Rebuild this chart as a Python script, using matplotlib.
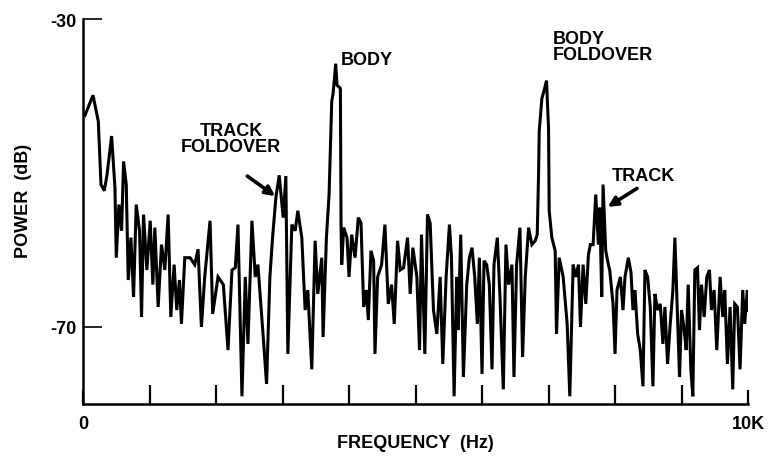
import matplotlib
matplotlib.use("Agg")
import matplotlib.pyplot as plt
import numpy as np

# power spectrum trace, frequency in kHz and power in dB
freq_khz = [
    0.00, 0.03, 0.15, 0.23, 0.27, 0.32, 0.36, 0.43, 0.48, 0.50,
    0.54, 0.58, 0.61, 0.65, 0.68, 0.72, 0.76, 0.80, 0.85, 0.88,
    0.91, 0.96, 1.01, 1.05, 1.08, 1.13, 1.18, 1.23, 1.28, 1.32,
    1.37, 1.41, 1.45, 1.48, 1.53, 1.61, 1.68, 1.73, 1.78, 1.83,
    1.91, 1.95, 2.03, 2.11, 2.18, 2.24, 2.29, 2.33, 2.39, 2.44,
    2.48, 2.54, 2.59, 2.63, 2.71, 2.76, 2.81, 2.85, 2.90, 2.95,
    3.01, 3.05, 3.08, 3.14, 3.19, 3.23, 3.29, 3.34, 3.38, 3.44,
    3.49, 3.53, 3.59, 3.61, 3.66, 3.70, 3.74, 3.76, 3.80, 3.82,
    3.87, 3.88, 3.89, 3.92, 3.97, 4.00, 4.04, 4.09, 4.14, 4.18,
    4.22, 4.26, 4.29, 4.33, 4.37, 4.39, 4.43, 4.49, 4.54, 4.59,
    4.64, 4.68, 4.73, 4.77, 4.82, 4.88, 4.92, 4.96, 5.02, 5.06,
    5.09, 5.14, 5.18, 5.22, 5.27, 5.32, 5.37, 5.41, 5.46, 5.51,
    5.54, 5.58, 5.62, 5.64, 5.68, 5.72, 5.77, 5.81, 5.85, 5.89,
    5.93, 5.96, 6.00, 6.03, 6.07, 6.11, 6.15, 6.18, 6.23, 6.27,
    6.32, 6.36, 6.40, 6.45, 6.48, 6.52, 6.57, 6.61, 6.65, 6.70,
    6.75, 6.80, 6.83, 6.85, 6.86, 6.90, 6.93, 6.97, 7.00, 7.01,
    7.05, 7.10, 7.12, 7.16, 7.22, 7.28, 7.32, 7.37, 7.41, 7.45,
    7.48, 7.52, 7.56, 7.60, 7.63, 7.67, 7.71, 7.75, 7.77, 7.80,
    7.82, 7.86, 7.90, 7.92, 7.97, 8.00, 8.03, 8.08, 8.12, 8.15,
    8.20, 8.24, 8.27, 8.30, 8.34, 8.38, 8.42, 8.45, 8.49, 8.53,
    8.57, 8.60, 8.64, 8.68, 8.72, 8.75, 8.79, 8.83, 8.87, 8.90,
    8.94, 8.97, 9.00, 9.04, 9.07, 9.10, 9.14, 9.17, 9.20, 9.24,
    9.27, 9.30, 9.34, 9.38, 9.42, 9.45, 9.49, 9.53, 9.58, 9.62,
    9.65, 9.69, 9.73, 9.77, 9.80, 9.84, 9.88, 9.92, 9.95, 9.99,
    10.00,
]
power_db = [
    -42.3, -42.5, -39.9, -43.3, -51.5, -52.3, -50.3, -45.2, -51.9, -61.0,
    -54.1, -57.5, -48.5, -51.5, -63.9, -58.4, -66.1, -54.1, -57.5, -68.7,
    -55.4, -62.6, -56.2, -64.5, -57.1, -67.4, -59.3, -62.6, -55.4, -68.7,
    -61.9, -67.8, -63.9, -69.6, -61.0, -61.0, -61.9, -59.9, -70.0, -63.5,
    -56.2, -68.3, -63.5, -64.5, -73.0, -62.6, -62.3, -56.7, -79.0, -63.5,
    -72.2, -56.2, -63.5, -61.9, -71.3, -77.4, -63.5, -58.4, -53.2, -50.3,
    -55.8, -50.4, -73.5, -56.7, -57.5, -54.9, -58.4, -67.8, -65.2, -75.5,
    -58.8, -65.7, -61.0, -71.3, -58.4, -52.8, -40.7, -39.7, -35.8, -38.6,
    -39.0, -56.7, -61.9, -57.1, -58.4, -63.5, -58.0, -61.0, -55.8, -56.5,
    -67.4, -65.2, -69.1, -60.1, -61.4, -73.5, -63.5, -61.9, -56.7, -67.0,
    -64.5, -69.6, -58.8, -62.6, -62.3, -58.4, -65.7, -59.7, -63.5, -73.0,
    -58.0, -73.5, -55.4, -56.5, -67.8, -70.9, -63.5, -74.8, -63.5, -56.7,
    -61.0, -79.0, -63.5, -70.4, -58.0, -76.5, -64.5, -61.0, -59.7, -63.5,
    -69.6, -61.0, -76.1, -61.4, -61.9, -64.5, -75.5, -61.9, -58.4, -66.1,
    -78.1, -59.3, -64.5, -61.9, -76.5, -61.9, -57.1, -73.9, -63.5, -57.1,
    -59.3, -58.8, -58.0, -50.3, -44.6, -40.3, -39.4, -38.0, -44.2, -54.9,
    -58.4, -60.1, -70.9, -61.0, -63.5, -69.6, -79.0, -61.9, -63.5, -61.9,
    -70.0, -61.9, -67.0, -60.6, -59.3, -59.3, -52.8, -59.3, -54.5, -66.1,
    -51.5, -60.1, -61.9, -62.6, -67.0, -73.5, -65.2, -63.5, -67.8, -63.5,
    -61.0, -62.9, -67.8, -65.2, -70.9, -73.0, -77.7, -62.6, -63.5, -67.4,
    -77.7, -65.7, -67.8, -67.0, -72.2, -67.4, -74.8, -69.6, -65.2, -58.4,
    -68.7, -76.5, -67.8, -70.4, -73.0, -64.5, -75.5, -79.0, -62.6, -62.3,
    -70.4, -64.5, -68.7, -63.5, -62.6, -67.8, -65.2, -73.0, -63.5, -68.7,
    -65.2, -74.8, -67.4, -78.1, -67.0, -67.4, -75.5, -65.2, -69.6, -65.2,
    -67.8,
]

freq_hz = np.array(freq_khz) * 1000.0
power = np.array(power_db)

plt.rcParams["font.family"] = ["Liberation Sans", "DejaVu Sans"]
plt.rcParams["font.weight"] = "bold"

fig = plt.figure(figsize=(7.73, 4.6), dpi=100)
ax = fig.add_axes([0.1074, 0.1196, 0.8603, 0.8369])

ax.plot(freq_hz, power, color="black", lw=2.2, solid_joinstyle="miter")

ax.set_xlim(0, 10000)
ax.set_ylim(-80, -30)
ax.spines["top"].set_visible(False)
ax.spines["right"].set_visible(False)
for side in ("left", "bottom"):
    ax.spines[side].set_linewidth(1.8)

ax.set_xticks([0, 10000])
ax.set_xticklabels(["0", "10K"])
ax.set_xticks(np.arange(1000, 10000, 1000), minor=True)
ax.set_yticks([-70, -30])
ax.set_yticklabels(["-70", "-30"])
ax.tick_params(axis="x", which="major", direction="in", length=10, width=1.6,
               pad=8, labelsize=13)
ax.tick_params(axis="x", which="minor", direction="in", length=14, width=1.6)
ax.tick_params(axis="y", which="major", direction="in", length=14, width=1.2,
               pad=5, labelsize=13)

ax.set_xlabel("FREQUENCY  (Hz)", fontsize=13, fontweight="bold")
ax.set_ylabel("POWER  (dB)", fontsize=13, fontweight="bold")
ax.xaxis.set_label_coords(0.5, -0.078)
ax.yaxis.set_label_coords(-0.077, 0.53)

ax.text(3880, -35.3, "BODY", fontsize=13, fontweight="bold", va="center", ha="left")
ax.text(7070, -33.6, "BODY\nFOLDOVER", fontsize=13, fontweight="bold",
        va="center", ha="left", linespacing=0.95)
ax.text(2230, -45.5, "TRACK\nFOLDOVER", fontsize=13, fontweight="bold",
        va="center", ha="center", linespacing=0.95)
ax.text(7950, -50.3, "TRACK", fontsize=13, fontweight="bold", va="center", ha="left")

arrow = dict(arrowstyle="-|>", lw=2.6, color="black", mutation_scale=14,
             shrinkA=0, shrinkB=0)
ax.annotate("", xy=(2890, -53.0), xytext=(2470, -50.4), arrowprops=arrow)
ax.annotate("", xy=(7890, -54.4), xytext=(8330, -52.0), arrowprops=arrow)

fig.savefig("out.png", dpi=100)
